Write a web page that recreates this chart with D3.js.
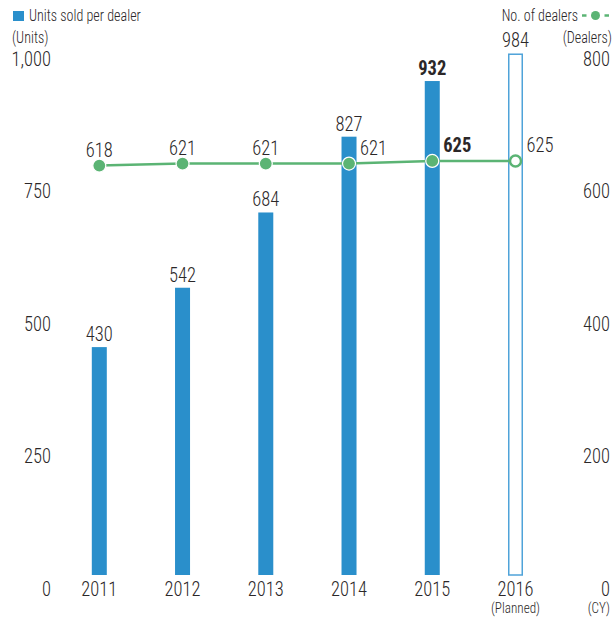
<!DOCTYPE html>
<html>
<head>
<meta charset="utf-8">
<script src="https://cdn.jsdelivr.net/npm/d3@7"></script>
<style>
  body { margin: 0; background: #fff; }
  svg text { font-family: "Roboto Condensed", "Liberation Sans Narrow", "DejaVu Sans Condensed", sans-serif; fill: #2b2728; font-weight: 300; }
</style>
</head>
<body>
<svg width="613" height="617"></svg>
<script>
'use strict';

const years = ["2011", "2012", "2013", "2014", "2015", "2016"];
const unitsPerDealer = [430, 542, 684, 827, 932, 984];
const dealers = [618, 621, 621, 621, 625, 625];
const leftTicks = [0, 250, 500, 750, 1000];
const rightTicks = [0, 200, 400, 600, 800];

const BLUE = "#2a8fcb";
const BLUE_LIGHT = "#4fa3d9";
const GREEN = "#5bb474";
const BASE = 575;
const TOP = 45;
const SQUEEZE = 0.88;   // the original type is narrower than Roboto Condensed

var svg = d3.select("svg");

var x = d3.scalePoint()
    .domain(years)
    .range([99.3, 515.5]);

var yLeft = d3.scaleLinear().domain([0, 1000]).range([BASE, TOP]);
var yRight = d3.scaleLinear().domain([0, 800]).range([BASE, TOP]);

var barW = 15;
var isPlan = function (d) { return d.year === "2016"; };
var isBold = function (d) { return d.year === "2015"; };

var rows = years.map(function (y, i) {
    return { year: y, units: unitsPerDealer[i], dealers: dealers[i] };
});

// place squeezed text at px,py
function place(px, py) {
    return "translate(" + px + "," + py + ") scale(" + SQUEEZE + ",1)";
}

// left axis labels
svg.append("g").selectAll("text")
    .data(leftTicks)
    .enter()
    .append("text")
    .attr("transform", function (d) { return place(51, yLeft(d) + 20.5); })
    .attr("text-anchor", "end")
    .style("font-size", "21px")
    .text(function (d) { return d3.format(",")(d); });

// right axis labels
svg.append("g").selectAll("text")
    .data(rightTicks)
    .enter()
    .append("text")
    .attr("transform", function (d) { return place(610, yRight(d) + 20.5); })
    .attr("text-anchor", "end")
    .style("font-size", "21px")
    .text(function (d) { return d; });

// bars
svg.append("g").selectAll("rect")
    .data(rows)
    .enter()
    .append("rect")
    .attr("x", function (d) { return x(d.year) - barW / 2 + (isPlan(d) ? 0.75 : 0); })
    .attr("y", function (d) { return yLeft(d.units) + (isPlan(d) ? 0.75 : 0); })
    .attr("width", function (d) { return isPlan(d) ? barW - 1.5 : barW; })
    .attr("height", function (d) { return BASE - yLeft(d.units) - (isPlan(d) ? 0.75 : 0); })
    .attr("fill", function (d) { return isPlan(d) ? "#fff" : BLUE; })
    .attr("stroke", function (d) { return isPlan(d) ? BLUE_LIGHT : "none"; })
    .attr("stroke-width", 1.5);

// bar labels
svg.append("g").selectAll("text")
    .data(rows)
    .enter()
    .append("text")
    .attr("transform", function (d) { return place(x(d.year), yLeft(d.units) - 6); })
    .attr("text-anchor", "middle")
    .style("font-size", "21px")
    .style("font-weight", function (d) { return isBold(d) ? "bold" : "300"; })
    .text(function (d) { return d.units; });

// dealers line
var line = d3.line()
    .x(function (d) { return x(d.year); })
    .y(function (d) { return yRight(d.dealers); });

svg.append("path")
    .datum(rows)
    .attr("d", line)
    .attr("fill", "none")
    .attr("stroke", GREEN)
    .attr("stroke-width", 2.5);

svg.append("g").selectAll("circle")
    .data(rows)
    .enter()
    .append("circle")
    .attr("cx", function (d) { return x(d.year); })
    .attr("cy", function (d) { return yRight(d.dealers); })
    .attr("r", function (d) { return isPlan(d) ? 5.5 : 6.5; })
    .attr("fill", function (d) { return isPlan(d) ? "#fff" : GREEN; })
    .attr("stroke", function (d) { return isPlan(d) ? GREEN : "#fff"; })
    .attr("stroke-width", function (d) { return isPlan(d) ? 2.5 : 1.2; });

// dealer labels: first three above, last three to the right
svg.append("g").selectAll("text")
    .data(rows)
    .enter()
    .append("text")
    .attr("transform", function (d, i) {
        return place(i < 3 ? x(d.year) : x(d.year) + 11, yRight(d.dealers) - 9);
    })
    .attr("text-anchor", function (d, i) { return i < 3 ? "middle" : "start"; })
    .style("font-size", "21px")
    .style("font-weight", function (d) { return isBold(d) ? "bold" : "300"; })
    .text(function (d) { return d.dealers; });

// year labels
svg.append("g").selectAll("text")
    .data(years)
    .enter()
    .append("text")
    .attr("transform", function (d) { return place(x(d), BASE + 20.5); })
    .attr("text-anchor", "middle")
    .style("font-size", "21px")
    .text(function (d) { return d; });

svg.append("text")
    .attr("transform", place(x("2016"), 612.5))
    .attr("text-anchor", "middle")
    .style("font-size", "15px")
    .text("(Planned)");

svg.append("text")
    .attr("transform", place(610, 612.5))
    .attr("text-anchor", "end")
    .style("font-size", "15px")
    .text("(CY)");

// legends / units
svg.append("rect")
    .attr("x", 13).attr("y", 11)
    .attr("width", 11).attr("height", 10)
    .attr("fill", BLUE);

svg.append("text")
    .attr("transform", place(29, 21))
    .style("font-size", "16px")
    .text("Units sold per dealer");

svg.append("text")
    .attr("transform", place(12, 43))
    .style("font-size", "16px")
    .text("(Units)");

svg.append("text")
    .attr("transform", place(578, 21))
    .attr("text-anchor", "end")
    .style("font-size", "16px")
    .text("No. of dealers");

var legendLine = svg.append("g").attr("stroke", GREEN).attr("stroke-width", 2.5);
legendLine.append("line").attr("x1", 582).attr("x2", 586.5).attr("y1", 15.5).attr("y2", 15.5);
legendLine.append("line").attr("x1", 604.5).attr("x2", 609).attr("y1", 15.5).attr("y2", 15.5);

svg.append("circle")
    .attr("cx", 595.5).attr("cy", 15.5)
    .attr("r", 4.5)
    .attr("fill", GREEN);

svg.append("text")
    .attr("transform", place(612, 43))
    .attr("text-anchor", "end")
    .style("font-size", "16px")
    .text("(Dealers)");
</script>
</body>
</html>
